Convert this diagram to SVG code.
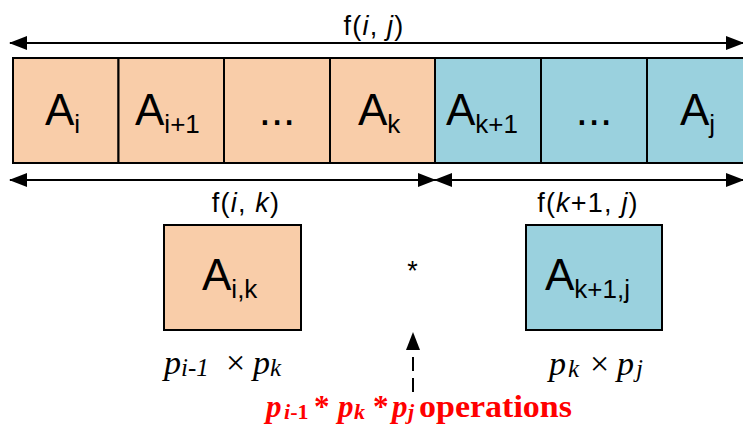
<svg xmlns="http://www.w3.org/2000/svg" width="743" height="427" viewBox="0 0 743 427">
<style>
.pe{fill:#F9CDA9;stroke:#000;stroke-width:2}
.bl{fill:#9AD1DE;stroke:#000;stroke-width:2}
.big{font-family:"Liberation Sans",Arial,sans-serif;font-size:44px;fill:#000}
.sub{font-size:26px}
.lab{font-family:"Liberation Sans",Arial,sans-serif;font-size:27px;letter-spacing:1.2px;fill:#000}
.ln{stroke:#000;stroke-width:2;fill:none}
.tm{font-family:"Liberation Serif","Times New Roman","DejaVu Serif",serif;font-size:34px;font-style:italic;fill:#000}
.ts{font-size:25px}
.red{font-family:"Liberation Serif","Times New Roman","DejaVu Serif",serif;font-size:31px;font-weight:bold;fill:#FF0000}
.rs{font-size:22px}
</style>
<defs>
<marker id="ah" viewBox="0 0 18 14" refX="17" refY="7" markerWidth="18" markerHeight="14" markerUnits="userSpaceOnUse" orient="auto-start-reverse">
<path d="M0,0 L18,7 L0,14 Z" fill="#000"/>
</marker>
</defs>
<g id="row">
<g id="n-ai"><rect class="pe" x="13" y="58" width="105.5" height="105"/><text class="big" x="45" y="125">A<tspan class="sub" dy="8">i</tspan></text></g>
<g id="n-ai1"><rect class="pe" x="118.5" y="58" width="105.5" height="105"/><text class="big" x="135" y="125">A<tspan class="sub" dy="8">i+1</tspan></text></g>
<g id="n-dots1"><rect class="pe" x="224" y="58" width="106" height="105"/><text class="big" x="277" y="125" text-anchor="middle">...</text></g>
<g id="n-ak"><rect class="pe" x="330" y="58" width="105" height="105"/><text class="big" x="358" y="125">A<tspan class="sub" dy="8">k</tspan></text></g>
<g id="n-ak1"><rect class="bl" x="435" y="58" width="106" height="105"/><text class="big" x="446" y="125">A<tspan class="sub" dy="8">k+1</tspan></text></g>
<g id="n-dots2"><rect class="bl" x="541" y="58" width="106" height="105"/><text class="big" x="594" y="125" text-anchor="middle">...</text></g>
<g id="n-aj"><rect class="bl" x="647" y="58" width="110" height="105"/><text class="big" x="680" y="125">A<tspan class="sub" dy="8">j</tspan></text></g>
</g>
<g id="connectors">
<line class="ln" x1="10" y1="43" x2="743" y2="43" marker-start="url(#ah)" marker-end="url(#ah)"/>
<line class="ln" x1="10" y1="180" x2="435" y2="180" marker-start="url(#ah)" marker-end="url(#ah)"/>
<line class="ln" x1="435" y1="180" x2="743" y2="180" marker-start="url(#ah)" marker-end="url(#ah)"/>
<line class="ln" x1="413" y1="392" x2="413" y2="333" stroke-dasharray="14,7" marker-end="url(#ah)"/>
</g>
<g id="labels">
<text class="lab" x="374" y="35" text-anchor="middle">f(<tspan font-style="italic">i</tspan>, <tspan font-style="italic">j</tspan>)</text>
<text class="lab" x="246" y="212" text-anchor="middle">f(<tspan font-style="italic">i</tspan>, <tspan font-style="italic">k</tspan>)</text>
<text class="lab" x="588" y="212" text-anchor="middle">f(<tspan font-style="italic">k</tspan>+1, <tspan font-style="italic">j</tspan>)</text>
</g>
<g id="n-aik"><rect class="pe" x="164" y="225" width="137" height="105"/><text class="big" x="202" y="290">A<tspan class="sub" dy="8">i,k</tspan></text></g>
<g id="n-akj"><rect class="bl" x="526" y="225" width="136" height="105"/><text class="big" x="545" y="290">A<tspan class="sub" dy="8">k+1,j</tspan></text></g>
<g id="n-star"><text class="lab" x="413" y="280" text-anchor="middle" font-size="18">*</text></g>
<g id="n-dim1"><text class="tm" y="374"><tspan x="164">p</tspan><tspan class="ts" x="181" dy="2">i-1</tspan><tspan x="226" dy="-2" font-style="normal">×</tspan><tspan x="253">p</tspan><tspan class="ts" x="270" dy="2">k</tspan></text></g>
<g id="n-dim2"><text class="tm" y="375"><tspan x="549">p</tspan><tspan class="ts" x="568" dy="2">k</tspan><tspan x="590" dy="-2" font-style="normal">×</tspan><tspan x="617">p</tspan><tspan class="ts" x="636" dy="2">j</tspan></text></g>
<g id="n-ops"><text class="red" y="417"><tspan x="266" font-style="italic">p</tspan><tspan class="rs" x="284" dy="2"><tspan font-style="italic">i</tspan>-1</tspan><tspan x="314" dy="-2">*</tspan><tspan x="338" font-style="italic">p</tspan><tspan class="rs" x="354" dy="2" font-style="italic">k</tspan><tspan x="373" dy="-2">*</tspan><tspan x="392" font-style="italic">p</tspan><tspan class="rs" x="408" dy="2" font-style="italic">j</tspan><tspan x="419" dy="-2" textLength="153" lengthAdjust="spacingAndGlyphs">operations</tspan></text></g>
</svg>
